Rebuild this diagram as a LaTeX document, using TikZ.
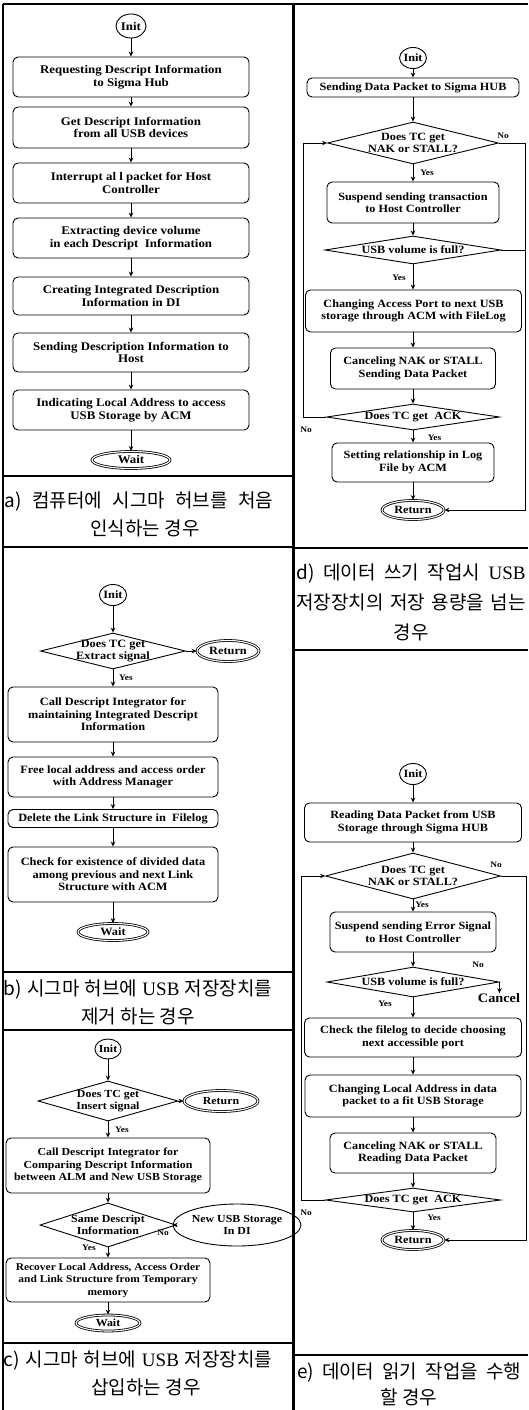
\documentclass[tikz,border=0pt]{standalone}
\usepackage{fontspec}
\setmainfont{Liberation Serif}
\newfontfamily\bx[FakeStretch=1.1]{Liberation Serif}
\newfontfamily\kr{Noto Sans CJK KR}
\usetikzlibrary{shapes.geometric,arrows.meta}
\def\fs{11.3}
\begin{document}
\begin{tikzpicture}[x=1pt,y=-1pt,
  lw/.style={line width=0.9pt},
  box/.style={draw, lw, rounded corners=5pt, align=center, inner sep=1pt, font=\bx\bfseries\fontsize{\fs}{12.5}\selectfont},
  dia/.style={draw, lw, diamond, inner sep=0pt},
  dtxt/.style={align=center, inner sep=0pt, font=\bx\bfseries\fontsize{\fs}{12}\selectfont},
  term/.style={draw, ellipse, double, double distance=1.1pt, line width=0.8pt, inner sep=0pt, font=\bx\bfseries\fontsize{\fs}{12}\selectfont},
  ini/.style={draw, lw, ellipse, inner sep=0pt, font=\bx\bfseries\fontsize{\fs}{12}\selectfont},
  oval/.style={draw, lw, ellipse, inner sep=0pt, align=center, font=\bx\bfseries\fontsize{\fs}{12}\selectfont},
  arr/.style={lw, -{Stealth[length=5pt,width=4.5pt]}},
  lbl/.style={inner sep=0pt, font=\bx\bfseries\fontsize{8.5}{9}\selectfont},
  frm/.style={line width=1.3pt},
  divider/.style={line width=3pt},
  captxt/.style={inner sep=0pt, text height=14pt, text depth=0pt, font=\kr\fontsize{19}{22}\selectfont},
]
\useasboundingbox (0,0) rectangle (528,1410);
\fill[white] (0,0) rectangle (528,1410);
% frame
\draw[frm] (3,4) -- (528,4);
\draw[frm] (3,4) -- (3,1410);
\draw[divider] (293,4) -- (293,1410);
\draw[frm] (3,476) -- (293,476);
\draw[frm] (3,547) -- (293,547);
\draw[frm] (3,972) -- (293,972);
\draw[frm] (3,1030) -- (293,1030);
\draw[frm] (3,1343) -- (293,1343);
\draw[frm] (293,548) -- (528,548);
\draw[frm] (293,650) -- (528,650);
\draw[frm] (293,1355) -- (528,1355);

% ---------------- a)
\def\fs{11.7}
\node[ini, minimum width=30pt, minimum height=24pt] (aInit) at (131,26) {Init};
\node[box, minimum width=236pt, minimum height=40pt] (a1) at (131,77) {Requesting Descript Information\\to Sigma Hub};
\node[box, minimum width=236pt, minimum height=41pt] (a2) at (131,127.5) {Get Descript Information\\from all USB devices};
\node[box, minimum width=236pt, minimum height=40pt] (a3) at (131,183) {Interrupt al l packet for Host\\Controller};
\node[box, minimum width=236pt, minimum height=40pt] (a4) at (131,238) {Extracting device volume\\in each Descript~ Information};
\node[box, minimum width=236pt, minimum height=38pt] (a5) at (131,296) {Creating Integrated Description\\Information in DI};
\node[box, minimum width=236pt, minimum height=39pt] (a6) at (131,352.5) {Sending Description Information to\\Host};
\node[box, minimum width=236pt, minimum height=40pt] (a7) at (131,410) {Indicating Local Address to access\\USB Storage by ACM};
\node[term, minimum width=78pt, minimum height=17pt] (aWait) at (131,460) {Wait};
\draw[arr] (aInit.south) -- (a1.north);
\draw[arr] (a1.south) -- (a2.north);
\draw[arr] (a2.south) -- (a3.north);
\draw[arr] (a3.south) -- (a4.north);
\draw[arr] (a4.south) -- (a5.north);
\draw[arr] (a5.south) -- (a6.north);
\draw[arr] (a6.south) -- (a7.north);
\draw[arr] (a7.south) -- (aWait.north);

% ---------------- b)
\def\fs{11.2}
\node[ini, minimum width=25pt, minimum height=21pt] (bInit) at (113,595) {Init};
\node[dia, minimum width=145pt, minimum height=36pt, label={[dtxt]center:Does TC get\\Extract signal}] (bD) at (113,651) {};
\node[term, minimum width=62pt, minimum height=21pt] (bRet) at (228,651) {Return};
\node[lbl] (bYes) at (126,678) {Yes};
\node[box, minimum width=210pt, minimum height=55pt] (b1) at (113,714.5) {Call Descript Integrator for\\maintaining Integrated Descript\\Information};
\node[box, minimum width=210pt, minimum height=40pt] (b2) at (113,777) {Free local address and access order\\with Address Manager};
\node[box, minimum width=210pt, minimum height=18pt] (b3) at (113,818.5) {Delete the Link Structure in~ Filelog};
\node[box, minimum width=210pt, minimum height=55pt] (b4) at (113,874.5) {Check for existence of divided data\\among previous and next Link\\Structure with ACM};
\node[term, minimum width=70pt, minimum height=17pt] (bWait) at (113,932) {Wait};
\draw[arr] (bInit.south) -- (bD.north);
\draw[arr] (bD.east) -- (bRet.west);
\draw[arr] (bD.south) -- (b1.north);
\draw[arr] (b1.south) -- (b2.north);
\draw[arr] (b2.south) -- (b3.north);
\draw[arr] (b3.south) -- (b4.north);
\draw[arr] (b4.south) -- (bWait.north);

% ---------------- c)
\def\fs{10.8}
\node[ini, minimum width=24pt, minimum height=20pt] (cInit) at (108,1049) {Init};
\node[dia, minimum width=140pt, minimum height=40pt, label={[dtxt]center:Does TC get\\Insert signal}] (cD) at (108,1101) {};
\node[term, minimum width=74pt, minimum height=21pt] (cRet) at (221,1101) {Return};
\node[lbl] (cYes) at (122,1130) {Yes};
\node[box, minimum width=204pt, minimum height=55pt] (c1) at (108,1165.5) {Call Descript Integrator for\\Comparing Descript Information\\between ALM and New USB Storage};
\node[dia, minimum width=136pt, minimum height=44pt, label={[dtxt]center:Same Descript\\Information}] (cD2) at (108,1225) {};
\node[lbl] (cNo) at (163,1233) {No};
\node[oval, minimum width=86pt, minimum height=42pt] (cNew) at (237,1225) {New USB Storage\\In DI};
\node[lbl] (cYes2) at (89,1248) {Yes};
\node[box, minimum width=204pt, minimum height=44pt, font=\bx\bfseries\fontsize{10.4}{12.5}\selectfont] (c2) at (108,1280) {Recover Local Address, Access Order\\and Link Structure from Temporary\\memory};
\node[term, minimum width=64pt, minimum height=16pt] (cWait) at (108,1323) {Wait};
\draw[arr] (cInit.south) -- (cD.north);
\draw[arr] (cD.east) -- (cRet.west);
\draw[arr] (cD.south) -- (c1.north);
\draw[arr] (c1.south) -- (cD2.north);
\draw[arr] (cD2.east) -- (cNew.west);
\draw[arr] (cD2.south) -- (c2.north);
\draw[arr] (c2.south) -- (cWait.north);

% ---------------- d)
\def\fs{11.1}
\node[ini, minimum width=25pt, minimum height=21pt] (dInit) at (413,58) {Init};
\node[box, minimum width=212pt, minimum height=19pt] (d1) at (413,87.5) {Sending Data Packet to Sigma HUB};
\node[dia, minimum width=171pt, minimum height=42pt, label={[dtxt]center:Does TC get\\NAK or STALL?}] (dD1) at (413,143) {};
\node[lbl] (dNo1) at (503,136) {No};
\node[lbl] (dYes1) at (427,173) {Yes};
\node[box, minimum width=172pt, minimum height=41pt] (d2) at (413,202.5) {Suspend sending transaction\\to Host Controller};
\node[dia, minimum width=176pt, minimum height=28pt, label={[dtxt]center:USB volume is full?}] (dD2) at (413,250) {};
\node[lbl] (dYes2) at (399,278) {Yes};
\node[box, minimum width=216pt, minimum height=42pt] (d3) at (413.5,311) {Changing Access Port to next USB\\storage through ACM with FileLog};
\node[box, minimum width=165pt, minimum height=41pt] (d4) at (413,368.5) {Canceling NAK or STALL\\Sending Data Packet};
\node[dia, minimum width=173pt, minimum height=26pt, label={[dtxt]center:Does TC get~ ACK}] (dD3) at (413,417) {};
\node[lbl] (dNo2) at (306,430) {No};
\node[lbl] (dYes3) at (434.5,438) {Yes};
\node[box, minimum width=162pt, minimum height=39pt] (d5) at (413,462.5) {Setting relationship in Log\\File by ACM};
\node[term, minimum width=62pt, minimum height=19pt] (dRet) at (413,510) {Return};
\coordinate (dLx) at (303,0);
\coordinate (dRx) at (525,0);
\draw[arr] (dInit.south) -- (d1.north);
\draw[arr] (d1.south) -- (dD1.north);
\draw[arr] (dD1.south) -- (d2.north);
\draw[arr] (d2.south) -- (dD2.north);
\draw[arr] (dD2.south) -- (dD2.south |- d3.north);
\draw[arr] (d3.south -| d4.north) -- (d4.north);
\draw[arr] (d4.south) -- (dD3.north);
\draw[arr] (dD3.south) -- (d5.north);
\draw[arr] (d5.south) -- (dRet.north);
\draw[arr] (dD3.west) -- (dD3.west -| dLx) |- (dD1.west);
\draw[arr] (dD1.east) -- (dD1.east -| dRx) |- (dRet.east);
\draw[lw] (dD2.east) -- (dD2.east -| dRx);

% ---------------- e)
\def\fs{11.1}
\node[ini, minimum width=23pt, minimum height=21pt] (eInit) at (413,774) {Init};
\node[box, minimum width=217pt, minimum height=39pt] (e1) at (413,822.5) {Reading Data Packet from USB\\Storage through Sigma HUB};
\node[dia, minimum width=175pt, minimum height=46pt, label={[dtxt]center:Does TC get\\NAK or STALL?}] (eD1) at (413,876) {};
\node[lbl] (eNo1) at (496,865) {No};
\node[lbl] (eYes1) at (422,905) {Yes};
\node[box, minimum width=166pt, minimum height=40pt] (e2) at (413,932) {Suspend sending Error Signal\\to Host Controller};
\node[dia, minimum width=172pt, minimum height=30pt, label={[dtxt]center:USB volume is full?}] (eD2) at (413,982) {};
\node[lbl] (eNo2) at (478,965) {No};
\node[inner sep=0pt, font=\bx\bfseries\fontsize{13}{13}\selectfont] (eCancel) at (499,998) {Cancel};
\node[lbl] (eYes2) at (385,1004) {Yes};
\node[box, minimum width=217pt, minimum height=39pt] (e3) at (413,1037.5) {Check the filelog to decide choosing\\next accessible port};
\node[box, minimum width=216pt, minimum height=42pt] (e4) at (413,1096) {Changing Local Address in data\\packet to a fit USB Storage};
\node[box, minimum width=166pt, minimum height=40pt] (e5) at (413,1153) {Canceling NAK or STALL\\Reading Data Packet};
\node[dia, minimum width=175pt, minimum height=24pt, label={[dtxt]center:Does TC get~ ACK}] (eD3) at (413,1200) {};
\node[lbl] (eNo3) at (306,1213) {No};
\node[lbl] (eYes3) at (434,1218) {Yes};
\node[term, minimum width=62pt, minimum height=19pt] (eRet) at (413,1240) {Return};
\coordinate (eLx) at (301,0);
\coordinate (eRx) at (526,0);
\draw[arr] (eInit.south) -- (e1.north);
\draw[arr] (e1.south) -- (eD1.north);
\draw[arr] (eD1.south) -- (e2.north);
\draw[arr] (e2.south) -- (eD2.north);
\draw[arr] (eD2.east) -- (eD2.east |- eCancel.north);
\draw[arr] (eD2.south) -- (e3.north);
\draw[arr] (e3.south) -- (e4.north);
\draw[arr] (e4.south) -- (e5.north);
\draw[arr] (e5.south) -- (eD3.north);
\draw[arr] (eD3.south) -- (eRet.north);
\draw[arr] (eD3.west) -- (eD3.west -| eLx) |- (eD1.west);
\draw[arr] (eD1.east) -- (eD1.east -| eRx) |- (eRet.east);

% ---------------- captions
\node[captxt] (capA1) at (139,500) {\makebox[268pt][s]{a) 컴퓨터에 시그마 허브를 처음}};
\node[captxt] (capA2) at (145,528) {인식하는 경우};
\node[captxt] (capB1) at (138,988) {\makebox[268pt][s]{b) 시그마 허브에 {\rmfamily USB} 저장장치를}};
\node[captxt] (capB2) at (138,1016) {제거 하는 경우};
\node[captxt] (capC1) at (138,1359) {\makebox[268pt][s]{c) 시그마 허브에 {\rmfamily USB} 저장장치를}};
\node[captxt] (capC2) at (146,1387) {삽입하는 경우};
\node[captxt] (capD1) at (411,572) {\makebox[229pt][s]{d) 데이터 쓰기 작업시 {\rmfamily USB}}};
\node[captxt] (capD2) at (411,602) {\makebox[229pt][s]{저장장치의 저장 용량을 넘는}};
\node[captxt] (capD3) at (411,632) {경우};
\node[captxt] (capE1) at (409,1371) {\makebox[224pt][s]{e) 데이터 읽기 작업을 수행}};
\node[captxt] (capE2) at (409,1397) {할 경우};
\end{tikzpicture}
\end{document}
